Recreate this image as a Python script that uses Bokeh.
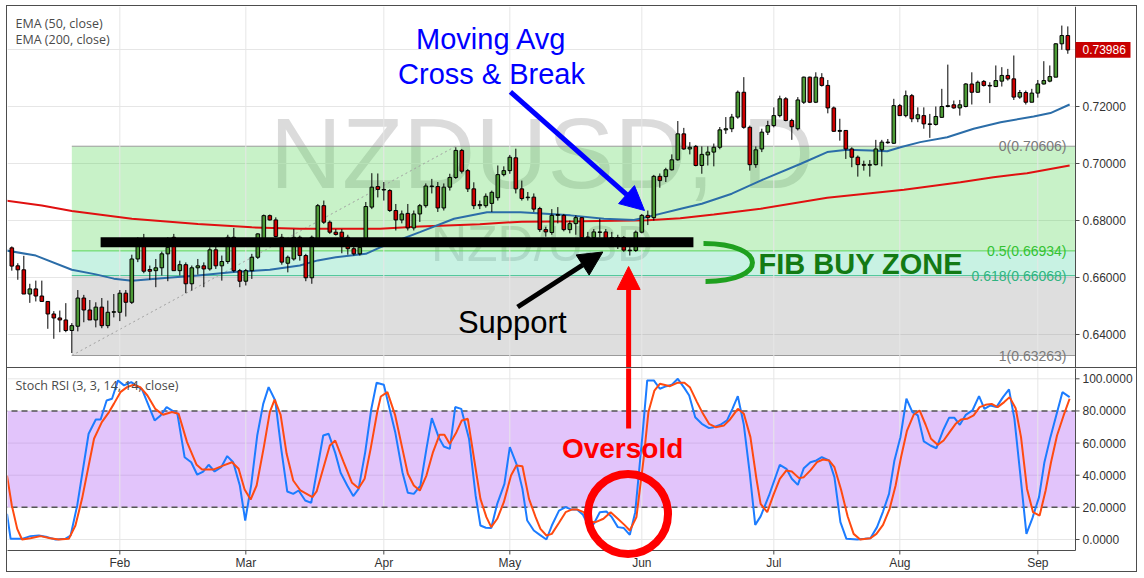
from bokeh.plotting import figure
from bokeh.layouts import column
from bokeh.models import ColumnDataSource, Label, Arrow, NormalHead, Range1d
from bokeh.embed import file_html
from bokeh.resources import INLINE

# ------------------------------------------------------------------ data
# daily NZDUSD candles (trading-day index 0 .. 176, early Jan -> 8 Sep)
opens = [
    0.6704, 0.6641, 0.6627, 0.6542, 0.6560, 0.6535, 0.6516, 0.6472, 0.6458, 0.6451,
    0.6414, 0.6429, 0.6528, 0.6486, 0.6451, 0.6496, 0.6431, 0.6478, 0.6478, 0.6545,
    0.6513, 0.6665, 0.6709, 0.6628, 0.6624, 0.6634, 0.6683, 0.6741, 0.6624, 0.6645,
    0.6578, 0.6634, 0.6641, 0.6630, 0.6697, 0.6641, 0.6656, 0.6741, 0.6624, 0.6587,
    0.6624, 0.6671, 0.6735, 0.6817, 0.6802, 0.6741, 0.6650, 0.6665, 0.6741, 0.6677,
    0.6599, 0.6735, 0.6852, 0.6794, 0.6759, 0.6759, 0.6741, 0.6701, 0.6683, 0.6735,
    0.6847, 0.6919, 0.6909, 0.6905, 0.6835, 0.6802, 0.6825, 0.6774, 0.6823, 0.6852,
    0.6919, 0.6919, 0.6844, 0.6917, 0.6951, 0.7046, 0.6975, 0.6911, 0.6852, 0.6852,
    0.6860, 0.6880, 0.6961, 0.6975, 0.7020, 0.6911, 0.6880, 0.6882, 0.6842, 0.6768,
    0.6758, 0.6818, 0.6818, 0.6768, 0.6789, 0.6810, 0.6742, 0.6740, 0.6758, 0.6760,
    0.6740, 0.6740, 0.6740, 0.6696, 0.6695, 0.6759, 0.6818, 0.6810, 0.6955, 0.6954,
    0.6978, 0.7013, 0.7104, 0.7051, 0.7060, 0.6993, 0.7030, 0.7040, 0.7057, 0.7118,
    0.7122, 0.7163, 0.7250, 0.7127, 0.6996, 0.7051, 0.7110, 0.7133, 0.7168, 0.7227,
    0.7151, 0.7122, 0.7215, 0.7303, 0.7215, 0.7301, 0.7274, 0.7195, 0.7113, 0.7116,
    0.7051, 0.7022, 0.6996, 0.6994, 0.6996, 0.7048, 0.7075, 0.7071, 0.7203, 0.7168,
    0.7238, 0.7157, 0.7168, 0.7139, 0.7137, 0.7162, 0.7200, 0.7206, 0.7195, 0.7200,
    0.7279, 0.7250, 0.7288, 0.7274, 0.7270, 0.7289, 0.7309, 0.7297, 0.7233, 0.7249,
    0.7215, 0.7247, 0.7279, 0.7289, 0.7303, 0.7420, 0.7449,
]
highs = [
    0.6709, 0.6650, 0.6676, 0.6578, 0.6589, 0.6589, 0.6516, 0.6482, 0.6484, 0.6510,
    0.6440, 0.6556, 0.6539, 0.6521, 0.6513, 0.6528, 0.6519, 0.6542, 0.6556, 0.6556,
    0.6680, 0.6741, 0.6753, 0.6642, 0.6665, 0.6691, 0.6741, 0.6753, 0.6659, 0.6653,
    0.6642, 0.6665, 0.6653, 0.6706, 0.6712, 0.6677, 0.6750, 0.6774, 0.6630, 0.6630,
    0.6683, 0.6755, 0.6821, 0.6821, 0.6811, 0.6753, 0.6677, 0.6770, 0.6747, 0.6683,
    0.6747, 0.6858, 0.6870, 0.6800, 0.6770, 0.6770, 0.6750, 0.6712, 0.6730, 0.6865,
    0.6966, 0.6965, 0.6935, 0.6910, 0.6858, 0.6835, 0.6858, 0.6835, 0.6858, 0.6930,
    0.6946, 0.6935, 0.6930, 0.6964, 0.7057, 0.7051, 0.6981, 0.6934, 0.6870, 0.6895,
    0.6905, 0.6993, 0.6990, 0.7030, 0.7052, 0.6940, 0.6900, 0.6895, 0.6848, 0.6778,
    0.6840, 0.6847, 0.6823, 0.6800, 0.6818, 0.6812, 0.6760, 0.6770, 0.6806, 0.6770,
    0.6760, 0.6750, 0.6745, 0.6710, 0.6765, 0.6823, 0.6835, 0.6960, 0.6965, 0.6985,
    0.7032, 0.7149, 0.7125, 0.7075, 0.7065, 0.7060, 0.7060, 0.7070, 0.7128, 0.7163,
    0.7174, 0.7256, 0.7303, 0.7133, 0.7060, 0.7122, 0.7150, 0.7197, 0.7238, 0.7233,
    0.7157, 0.7233, 0.7305, 0.7305, 0.7320, 0.7317, 0.7293, 0.7200, 0.7157, 0.7116,
    0.7057, 0.7028, 0.7010, 0.7012, 0.7083, 0.7083, 0.7086, 0.7227, 0.7209, 0.7256,
    0.7244, 0.7197, 0.7197, 0.7174, 0.7200, 0.7262, 0.7347, 0.7221, 0.7223, 0.7282,
    0.7320, 0.7291, 0.7293, 0.7285, 0.7344, 0.7338, 0.7332, 0.7379, 0.7258, 0.7256,
    0.7262, 0.7293, 0.7359, 0.7344, 0.7422, 0.7484, 0.7481,
]
lows = [
    0.6624, 0.6592, 0.6542, 0.6511, 0.6516, 0.6516, 0.6420, 0.6385, 0.6408, 0.6408,
    0.6335, 0.6411, 0.6443, 0.6451, 0.6425, 0.6422, 0.6422, 0.6460, 0.6447, 0.6463,
    0.6507, 0.6654, 0.6615, 0.6592, 0.6566, 0.6607, 0.6587, 0.6624, 0.6607, 0.6545,
    0.6554, 0.6610, 0.6566, 0.6624, 0.6630, 0.6589, 0.6648, 0.6618, 0.6566, 0.6572,
    0.6595, 0.6665, 0.6730, 0.6800, 0.6741, 0.6645, 0.6618, 0.6659, 0.6659, 0.6587,
    0.6578, 0.6730, 0.6788, 0.6753, 0.6747, 0.6685, 0.6680, 0.6677, 0.6677, 0.6730,
    0.6840, 0.6881, 0.6870, 0.6830, 0.6765, 0.6790, 0.6765, 0.6765, 0.6795, 0.6845,
    0.6895, 0.6830, 0.6835, 0.6905, 0.6946, 0.6965, 0.6900, 0.6840, 0.6840, 0.6845,
    0.6830, 0.6870, 0.6955, 0.6964, 0.6895, 0.6870, 0.6870, 0.6830, 0.6760, 0.6743,
    0.6750, 0.6790, 0.6762, 0.6755, 0.6750, 0.6735, 0.6730, 0.6735, 0.6740, 0.6725,
    0.6715, 0.6700, 0.6690, 0.6677, 0.6690, 0.6755, 0.6784, 0.6800, 0.6915, 0.6935,
    0.6975, 0.7010, 0.7048, 0.7032, 0.6990, 0.6964, 0.6993, 0.6990, 0.7050, 0.7104,
    0.7110, 0.7157, 0.7122, 0.6975, 0.6985, 0.7040, 0.7100, 0.7127, 0.7162, 0.7148,
    0.7083, 0.7116, 0.7209, 0.7212, 0.7212, 0.7270, 0.7176, 0.7111, 0.7080, 0.7016,
    0.6987, 0.6954, 0.6975, 0.6954, 0.6993, 0.6990, 0.7069, 0.7069, 0.7168, 0.7162,
    0.7145, 0.7145, 0.7122, 0.7090, 0.7133, 0.7160, 0.7197, 0.7192, 0.7168, 0.7197,
    0.7207, 0.7248, 0.7270, 0.7212, 0.7268, 0.7270, 0.7291, 0.7223, 0.7227, 0.7207,
    0.7215, 0.7231, 0.7277, 0.7285, 0.7303, 0.7399, 0.7385,
]
closes = [
    0.6640, 0.6627, 0.6542, 0.6560, 0.6535, 0.6516, 0.6472, 0.6458, 0.6451, 0.6414,
    0.6431, 0.6528, 0.6486, 0.6451, 0.6496, 0.6431, 0.6478, 0.6480, 0.6545, 0.6513,
    0.6665, 0.6709, 0.6622, 0.6622, 0.6634, 0.6683, 0.6706, 0.6624, 0.6645, 0.6578,
    0.6634, 0.6641, 0.6630, 0.6697, 0.6641, 0.6656, 0.6741, 0.6624, 0.6587, 0.6624,
    0.6671, 0.6753, 0.6817, 0.6802, 0.6744, 0.6654, 0.6671, 0.6741, 0.6677, 0.6599,
    0.6741, 0.6852, 0.6794, 0.6759, 0.6751, 0.6741, 0.6701, 0.6683, 0.6706, 0.6849,
    0.6917, 0.6909, 0.6907, 0.6835, 0.6802, 0.6823, 0.6774, 0.6823, 0.6852, 0.6921,
    0.6921, 0.6844, 0.6917, 0.6951, 0.7046, 0.6973, 0.6911, 0.6852, 0.6856, 0.6885,
    0.6899, 0.6961, 0.6975, 0.7022, 0.6911, 0.6877, 0.6882, 0.6840, 0.6768, 0.6760,
    0.6818, 0.6821, 0.6768, 0.6789, 0.6810, 0.6740, 0.6740, 0.6760, 0.6760, 0.6737,
    0.6738, 0.6725, 0.6696, 0.6694, 0.6759, 0.6818, 0.6810, 0.6955, 0.6940, 0.6978,
    0.7013, 0.7104, 0.7051, 0.7057, 0.6993, 0.7032, 0.7040, 0.7057, 0.7118, 0.7122,
    0.7163, 0.7250, 0.7127, 0.6996, 0.7048, 0.7110, 0.7133, 0.7168, 0.7227, 0.7151,
    0.7129, 0.7223, 0.7303, 0.7215, 0.7303, 0.7274, 0.7195, 0.7113, 0.7116, 0.7051,
    0.7022, 0.6996, 0.6994, 0.6996, 0.7051, 0.7075, 0.7073, 0.7203, 0.7168, 0.7238,
    0.7157, 0.7171, 0.7139, 0.7137, 0.7165, 0.7200, 0.7203, 0.7195, 0.7206, 0.7279,
    0.7250, 0.7285, 0.7274, 0.7272, 0.7291, 0.7309, 0.7297, 0.7233, 0.7249, 0.7215,
    0.7247, 0.7279, 0.7291, 0.7305, 0.7420, 0.7449, 0.73986,
]
bar_index = list(range(len(closes)))

month_ticks = [18, 39, 62, 83, 105, 127, 148, 171]
month_labels = ["Feb", "Mar", "Apr", "May", "Jun", "Jul", "Aug", "Sep"]
price_ticks = [0.64, 0.66, 0.68, 0.70, 0.72]
price_grid = [0.64, 0.66, 0.68, 0.70, 0.72, 0.74]
stoch_ticks = [0, 20, 40, 60, 80, 100]

# moving averages (bar index, value)
ema50_points = [
    (-1, 0.6695), (4, 0.6677), (10, 0.6627), (14, 0.6611), (17, 0.6596), (20, 0.6589),
    (26, 0.6599), (31, 0.6607), (37, 0.6619), (43, 0.6627), (48, 0.6642), (51, 0.6660),
    (54, 0.6671), (59, 0.6683), (61.4, 0.6706), (68, 0.6759), (73.7, 0.6806),
    (79.2, 0.6829), (84.8, 0.6829), (93.1, 0.6818), (98.7, 0.6806), (103.7, 0.6802),
    (107, 0.6818), (111.5, 0.6841), (115, 0.6859), (120, 0.6894), (124.8, 0.6940),
    (131.5, 0.6999), (135.9, 0.7040), (139.2, 0.7048), (143.1, 0.7046), (145.9, 0.7043),
    (148.1, 0.7057), (151.4, 0.7075), (155.9, 0.7092), (160.3, 0.7122), (164.8, 0.7145),
    (170.3, 0.7165), (173.1, 0.7177), (176.3, 0.7207),
]
ema200_points = [
    (-1, 0.6870), (5, 0.6853), (10, 0.6833), (20, 0.6806), (31, 0.6788), (40, 0.6776),
    (48, 0.6771), (61.4, 0.6771), (68, 0.6779), (78, 0.6787), (85, 0.6796), (95, 0.6797),
    (106, 0.6801), (111.4, 0.6808), (117, 0.6821), (124.8, 0.6841), (135.9, 0.6880),
    (148.7, 0.6908), (158.1, 0.6934), (163.6, 0.6952), (169.2, 0.6966), (176.3, 0.6993),
]

# Stoch RSI %K and %D (bar index, value)
stoch_k_points = [
    (-0.8, 16.0), (-0.2, 0.4), (1.7, 0.4), (3.1, 2.1), (4.5, 2.5), (5.9, 1.5), (7.3, 0.0),
    (8.9, 0.4), (9.8, 2.5), (10.9, 21.2), (12.8, 65.8), (14.0, 74.7), (14.8, 74.7),
    (15.8, 86.5), (16.7, 87.6), (17.7, 99.0), (18.7, 95.9), (19.9, 97.9), (21.7, 93.4),
    (23.8, 74.1), (24.8, 77.2), (25.8, 82.4), (27.6, 78.2), (28.8, 51.2), (29.9, 48.1),
    (30.9, 40.3), (31.9, 42.3), (32.8, 46.5), (33.8, 42.3), (34.9, 45.0), (35.9, 51.9),
    (36.9, 48.1), (38.0, 33.6), (38.9, 11.8), (39.9, 34.0), (40.9, 64.7), (41.9, 84.4),
    (42.8, 94.8), (43.9, 86.5), (44.9, 56.4), (45.9, 29.9), (46.9, 28.4), (47.8, 30.5),
    (48.9, 24.3), (49.9, 22.8), (51.9, 64.7), (52.8, 65.8), (53.9, 53.9), (54.8, 41.5),
    (55.9, 33.6), (56.9, 27.0), (57.8, 31.5), (58.9, 54.4), (59.9, 80.9), (60.8, 97.5),
    (62.0, 96.3), (63.9, 66.8), (65.1, 41.9), (66.0, 29.1), (67.0, 28.4), (68.1, 33.6),
    (69.1, 56.4), (70.0, 75.5), (71.2, 63.1), (72.0, 57.9), (73.0, 56.4), (73.9, 82.4),
    (74.9, 81.3), (76.2, 62.7), (77.3, 27.4), (78.1, 8.7), (79.0, 7.3), (79.9, 7.1),
    (80.9, 22.2), (82.1, 34.6), (83.0, 57.5), (84.1, 47.1), (85.1, 31.5), (85.9, 11.8),
    (87.0, 5.6), (88.0, 2.9), (89.1, 0.0), (90.0, 8.7), (91.2, 18.0), (92.3, 20.1),
    (93.2, 18.7), (94.2, 18.7), (95.2, 15.4), (96.2, 7.7), (97.0, 9.8), (98.0, 17.0),
    (99.1, 17.4), (100.0, 13.9), (101.0, 7.7), (102.0, 7.1), (103.0, 2.9), (103.9, 17.0),
    (105.1, 64.7), (105.9, 99.0), (107.0, 99.0), (108.0, 93.8), (109.1, 95.4),
    (110.0, 96.3), (111.0, 100.0), (112.1, 94.2), (112.9, 89.6), (113.9, 76.1),
    (115.0, 72.0), (116.2, 69.3), (117.0, 69.9), (118.1, 71.4), (119.2, 74.1),
    (120.1, 81.3), (121.0, 89.2), (122.0, 71.4), (123.0, 40.9), (123.9, 9.1),
    (124.8, 14.4), (126.2, 27.4), (128.0, 46.5), (129.1, 44.0), (130.0, 37.8),
    (131.0, 34.0), (132.0, 44.4), (133.1, 48.1), (134.1, 49.2), (135.0, 51.2),
    (136.2, 49.2), (137.1, 38.8), (138.1, 10.8), (139.1, 0.4), (140.9, 0.0), (142.1, 0.4),
    (143.1, 0.8), (144.2, 7.7), (145.2, 17.4), (146.2, 28.4), (147.1, 49.2), (148.1, 63.7),
    (149.1, 87.6), (150.1, 79.3), (151.0, 77.2), (152.0, 61.0), (153.1, 58.5),
    (154.1, 56.8), (155.2, 67.8), (156.2, 75.7), (157.1, 75.7), (158.0, 71.4),
    (159.0, 77.6), (160.1, 80.3), (161.2, 89.2), (162.1, 81.3), (163.1, 83.4),
    (164.1, 82.4), (165.2, 88.6), (166.2, 93.4), (167.1, 75.1), (168.1, 39.8),
    (169.1, 3.5), (170.1, 13.3), (171.2, 26.4), (172.1, 48.1), (173.1, 63.7),
    (174.1, 77.6), (175.1, 91.7), (176.3, 88.6),
]
stoch_d_points = [
    (-0.8, 39.8), (0.0, 21.2), (0.9, 6.6), (1.7, 0.0), (3.1, 0.8), (4.8, 2.1), (6.4, 0.8),
    (7.8, 0.0), (9.5, 0.4), (10.6, 8.7), (11.7, 25.3), (13.7, 62.7), (15.0, 73.0),
    (16.2, 79.3), (17.0, 84.4), (18.1, 91.7), (19.2, 94.8), (20.3, 96.3), (21.4, 94.8),
    (22.6, 89.6), (23.9, 81.3), (25.2, 77.6), (26.7, 79.3), (27.8, 78.2), (29.2, 60.6),
    (30.8, 46.5), (31.7, 43.6), (33.7, 43.6), (35.3, 46.1), (36.7, 48.1), (37.8, 44.0),
    (38.8, 31.1), (39.8, 24.9), (40.8, 33.6), (42.0, 57.5), (43.0, 79.3), (43.8, 87.1),
    (44.8, 77.6), (45.8, 53.3), (46.9, 36.7), (48.1, 30.5), (50.1, 26.4), (50.8, 29.9),
    (53.0, 58.5), (53.9, 61.6), (55.3, 48.1), (56.7, 35.3), (57.8, 31.9), (58.8, 37.8),
    (59.8, 56.4), (60.9, 79.3), (61.5, 89.0), (62.6, 91.7), (63.9, 77.2), (65.1, 56.4),
    (66.0, 40.9), (67.0, 33.6), (68.0, 30.5), (69.1, 39.8), (70.2, 54.4), (71.3, 65.2),
    (72.1, 65.2), (73.0, 59.5), (74.1, 66.8), (75.0, 74.1), (76.0, 75.1), (77.0, 51.2),
    (78.1, 25.3), (79.1, 13.9), (79.9, 7.7), (80.9, 12.9), (82.0, 23.2), (83.2, 39.8),
    (84.1, 46.1), (85.1, 45.6), (86.2, 25.3), (87.3, 13.9), (88.1, 6.6), (89.1, 2.5),
    (90.0, 3.5), (91.2, 10.4), (92.3, 17.0), (93.4, 18.7), (94.2, 18.7), (95.3, 17.0),
    (96.3, 11.2), (97.3, 10.8), (98.6, 12.9), (99.8, 17.0), (101.0, 12.9), (102.1, 9.1),
    (103.0, 5.6), (104.1, 13.9), (105.3, 50.2), (106.1, 79.3), (107.1, 92.7),
    (108.0, 96.9), (109.7, 95.4), (110.9, 97.5), (112.1, 97.5), (113.0, 94.8),
    (114.2, 85.5), (115.2, 78.2), (116.2, 72.0), (117.3, 69.9), (118.7, 71.0),
    (119.7, 74.7), (121.0, 81.3), (122.0, 78.2), (123.1, 63.7), (124.1, 37.8),
    (124.8, 22.2), (125.9, 17.0), (127.0, 28.4), (128.0, 37.8), (129.1, 43.0),
    (130.0, 42.3), (131.2, 38.2), (132.0, 38.8), (133.1, 43.0), (134.2, 48.1),
    (135.2, 49.8), (136.2, 49.2), (137.1, 45.0), (138.2, 31.1), (139.3, 14.5),
    (140.3, 3.5), (141.4, 0.0), (143.1, 0.8), (144.1, 3.5), (145.2, 9.1), (146.3, 19.1),
    (147.3, 33.6), (148.2, 51.2), (149.2, 67.8), (150.3, 77.6), (151.3, 80.3),
    (152.3, 71.4), (153.2, 62.7), (154.3, 58.9), (155.3, 61.6), (156.3, 66.8),
    (157.3, 72.0), (158.2, 74.7), (159.2, 75.1), (160.3, 77.2), (161.3, 82.4),
    (162.3, 83.8), (163.3, 84.4), (164.3, 82.4), (165.4, 85.5), (166.3, 88.6),
    (167.3, 81.7), (168.2, 63.7), (169.2, 31.5), (170.2, 17.0), (171.3, 14.9),
    (172.3, 30.5), (173.2, 48.1), (174.2, 64.7), (175.3, 77.2), (176.3, 87.6),
]
stoch_bands = [20, 80]

# Fibonacci retracement drawn from the Jan low to the Apr high
fib_ratios = ["0", "0.5", "0.618", "1"]
fib_prices = [0.70606, 0.66934, 0.66068, 0.63263]
fib_low_bar = 10
fib_high_bar = 74

# horizontal support drawn on the chart
support_price = 0.6724
support_from_bar = 14.8
support_to_bar = 113.6
last_close = closes[-1]

# ------------------------------------------------------------------ geometry / style
FONT = "Liberation Sans"
PX = 1.0 / 6.0                 # one pixel in bar units
X0 = -0.72                     # left edge of the panes
X1 = X0 + 1068 * PX            # price-scale line (right edge of the plotting area)
XR = X0 + 1129 * PX            # outer right edge (scale area included)
P_LO, P_HI = 0.62842, 0.75509  # price pane
PPX = (P_HI - P_LO) / 361      # one pixel in price units
S_HI = 106.41                  # stoch pane top
SPX = 1 / 1.607                # one pixel in stoch units
S_AX = S_HI - 182 * SPX        # stoch time-axis line
S_LO = S_HI - 203 * SPX        # bottom of the stoch pane (time labels included)
GRID = "#e6e6e6"
AXIS = "#4d4d4d"
TICK_TXT = "#333333"

x_rng = Range1d(X0, XR)

def base_fig(h, y_lo, y_hi):
    f = figure(frame_width=1129, frame_height=h, x_range=x_rng, y_range=Range1d(y_lo, y_hi),
               x_axis_location=None, y_axis_location=None,
               output_backend="svg", toolbar_location=None,
               min_border_left=0, min_border_right=0, min_border_top=0, min_border_bottom=0,
               outline_line_color=None, background_fill_color="white",
               border_fill_color="white")
    f.xgrid.visible = False
    f.ygrid.visible = False
    f.styles = {"outline": "1px solid #4d4d4d"}
    return f

def price_scale(f, ticks, fmt, y_bottom, y_top, ypx):
    # vertical grid at month starts, horizontal grid handled by caller
    f.segment(x0=month_ticks, y0=[y_bottom] * len(month_ticks), x1=month_ticks,
              y1=[y_top] * len(month_ticks), line_color=GRID, line_width=1)
    f.segment(x0=[X1], y0=[y_bottom], x1=[X1], y1=[y_top], line_color=AXIS, line_width=1)
    f.segment(x0=[X1] * len(ticks), y0=ticks, x1=[X1 + 4 * PX] * len(ticks), y1=ticks,
              line_color=AXIS, line_width=1)
    for t in ticks:
        f.add_layout(Label(x=X1 + 7 * PX, y=t, text=fmt % t, text_font=FONT,
                           text_font_size="12px", text_color=TICK_TXT,
                           text_align="left", text_baseline="middle"))

# ---------------- price pane
p = base_fig(361, P_LO, P_HI)
p.segment(x0=[X0] * len(price_grid), y0=price_grid, x1=[X1] * len(price_grid), y1=price_grid,
          line_color=GRID, line_width=1)

# watermarks
p.add_layout(Label(x=88.37, y=0.70351, text="NZDUSD, D", text_font=FONT,
                   text_font_size="100px", text_color="#888888", text_alpha=0.30,
                   text_align="center", text_baseline="middle", level="underlay"))
p.add_layout(Label(x=88.37, y=0.67182, text="NZD/USD", text_font=FONT,
                   text_font_size="50px", text_color="#888888", text_alpha=0.30,
                   text_align="center", text_baseline="middle", level="underlay"))

# fib zones
zone_colors = ["#48d448", "#48d4a2", "#919191"]
for k in range(3):
    p.quad(left=[fib_low_bar], right=[X1], top=[fib_prices[k]], bottom=[fib_prices[k + 1]],
           fill_color=zone_colors[k], fill_alpha=0.30, line_color=None)
level_colors = ["#9a9a9a", "#5cd65c", "#4dc79a", "#9a9a9a"]
label_colors = ["#7a7a7a", "#33c233", "#2fb37f", "#7a7a7a"]
for r, pr, lc, tc in zip(fib_ratios, fib_prices, level_colors, label_colors):
    p.segment(x0=[fib_low_bar], y0=[pr], x1=[X1], y1=[pr], line_color=lc, line_width=1)
    p.add_layout(Label(x=X1 - 9 * PX, y=pr, text=f"{r}({pr:.5f})", text_font=FONT,
                       text_font_size="14px", text_color=tc, text_align="right",
                       text_baseline="middle"))
p.line([fib_low_bar, fib_high_bar], [fib_prices[3], fib_prices[0]],
       line_color="#a0a0a0", line_dash="2 3", line_width=1)

price_scale(p, price_ticks, "%.5f", P_LO, P_HI, PPX)

# EMAs
p.line([a for a, b in ema200_points], [b for a, b in ema200_points],
       line_color="#e01010", line_width=2)
p.line([a for a, b in ema50_points], [b for a, b in ema50_points],
       line_color="#2b6da8", line_width=2)

# candles
src = ColumnDataSource(dict(
    x=bar_index, h=highs, l=lows,
    top=[max(o, c) for o, c in zip(opens, closes)],
    bottom=[min(o, c) for o, c in zip(opens, closes)],
    color=["#4c9a36" if c >= o else "#cc0000" for o, c in zip(opens, closes)],
))
p.segment(x0="x", y0="l", x1="x", y1="h", source=src, line_color="black", line_width=1)
p.vbar(x="x", width=0.6, top="top", bottom="bottom", fill_color="color",
       line_color="black", line_width=1, source=src)

# support bar
p.segment(x0=[support_from_bar], y0=[support_price], x1=[support_to_bar], y1=[support_price],
          line_color="black", line_width=10)

# green bracket
p.bezier(x0=[115.28], y0=[0.67193], x1=[115.62], y1=[0.65860],
         cx0=[126.1], cy0=[0.67193], cx1=[126.1], cy1=[0.65860],
         line_color="#1fa01f", line_width=5)

# legend texts
p.add_layout(Label(x=X0 + 8 * PX, y=0.74930, text="EMA (50, close)", text_font="Open Sans",
                   text_font_size="12.5px", text_color="#4a4a4a", text_baseline="middle"))
p.add_layout(Label(x=X0 + 8 * PX, y=0.74344, text="EMA (200, close)", text_font="Open Sans",
                   text_font_size="12.5px", text_color="#4a4a4a", text_baseline="middle"))

# annotations
p.add_layout(Label(x=79.95, y=0.74386, text="Moving Avg", text_font=FONT,
                   text_font_size="29px", text_color="#0000ff", text_align="center",
                   text_baseline="middle"))
p.add_layout(Label(x=79.95, y=0.73158, text="Cross & Break", text_font=FONT,
                   text_font_size="29px", text_color="#0000ff", text_align="center",
                   text_baseline="middle"))
p.add_layout(Arrow(end=NormalHead(size=24, fill_color="#0000ff", line_color="#0000ff"),
                   x_start=83.1, y_start=0.72509, x_end=105.45, y_end=0.68351,
                   line_color="#0000ff", line_width=5))
p.add_layout(Label(x=83.4, y=0.64432, text="Support", text_font=FONT,
                   text_font_size="31px", text_color="black", text_align="center",
                   text_baseline="middle"))
p.add_layout(Arrow(end=NormalHead(size=24, fill_color="black", line_color="black"),
                   x_start=84.3, y_start=0.64965, x_end=98.5, y_end=0.66895,
                   line_color="black", line_width=5))
p.add_layout(Label(x=124.45, y=0.66491, text="FIB BUY ZONE", text_font=FONT,
                   text_font_size="29px", text_font_style="bold", text_color="#137a13",
                   text_baseline="middle"))
p.add_layout(Arrow(end=NormalHead(size=23, fill_color="#ff0000", line_color="#ff0000"),
                   x_start=102.8, y_start=P_LO, x_end=102.8, y_end=0.66386,
                   line_color="#ff0000", line_width=5))

# last price box on the price scale
p.quad(left=[X1], right=[X1 + 55 * PX], top=[last_close + 7.8 * PPX],
       bottom=[last_close - 7.8 * PPX], fill_color="#c80000", line_color=None)
p.add_layout(Label(x=X1 + 7 * PX, y=last_close, text=f"{last_close:.5f}", text_font=FONT,
                   text_font_size="12px", text_color="white", text_baseline="middle",
                   text_align="left"))

# ---------------- stoch pane
s = base_fig(203, S_LO, S_HI)
s.segment(x0=[X0] * len(stoch_ticks), y0=stoch_ticks, x1=[X1] * len(stoch_ticks),
          y1=stoch_ticks, line_color=GRID, line_width=1)
s.quad(left=[X0 - 1], right=[X1], bottom=[stoch_bands[0]], top=[stoch_bands[1]],
       fill_color="#ac56f4", fill_alpha=0.35, line_color=None)
price_scale(s, stoch_ticks, "%.4f", S_AX, S_HI + 1, SPX)
s.segment(x0=[X0 - 1] * 2, y0=stoch_bands, x1=[X1] * 2, y1=stoch_bands,
          line_color="#555555", line_dash="6 4", line_width=1.5)
# time axis
s.segment(x0=[X0 - 1], y0=[S_AX], x1=[X1], y1=[S_AX], line_color=AXIS, line_width=1)
s.segment(x0=month_ticks, y0=[S_AX] * len(month_ticks), x1=month_ticks,
          y1=[S_AX - 4 * SPX] * len(month_ticks), line_color=AXIS, line_width=1)
for t, lab in zip(month_ticks, month_labels):
    s.add_layout(Label(x=t, y=S_AX - 12.5 * SPX, text=lab, text_font=FONT,
                       text_font_size="12px", text_color=TICK_TXT, text_align="center",
                       text_baseline="middle"))

s.line([a for a, b in stoch_k_points], [b for a, b in stoch_k_points],
       line_color="#1c7cff", line_width=2)
s.line([a for a, b in stoch_d_points], [b for a, b in stoch_d_points],
       line_color="#ff4a10", line_width=2)

s.add_layout(Label(x=X0 + 8 * PX, y=96.1, text="Stoch RSI (3, 3, 14, 14, close)",
                   text_font="Open Sans", text_font_size="12.5px", text_color="#4a4a4a",
                   text_baseline="middle"))
s.segment(x0=[102.8], y0=[69.1], x1=[102.8], y1=[S_HI + 5], line_color="#ff0000", line_width=5)
s.scatter(x=[102.7], y=[15.9], marker="circle", size=80, fill_color=None,
          line_color="#ff0000", line_width=8)
s.add_layout(Label(x=101.8, y=56.9, text="Oversold", text_font=FONT,
                   text_font_size="28px", text_font_style="bold", text_color="#ff0000",
                   text_align="center", text_baseline="middle"))

layout = column(p, s, spacing=1, margin=(6, 0, 0, 7))

html = file_html(layout, INLINE)
html = html.replace("<body>", '<body style="margin:0;background-color:#eef1f6;">', 1)
open("out.html", "w").write(html)
